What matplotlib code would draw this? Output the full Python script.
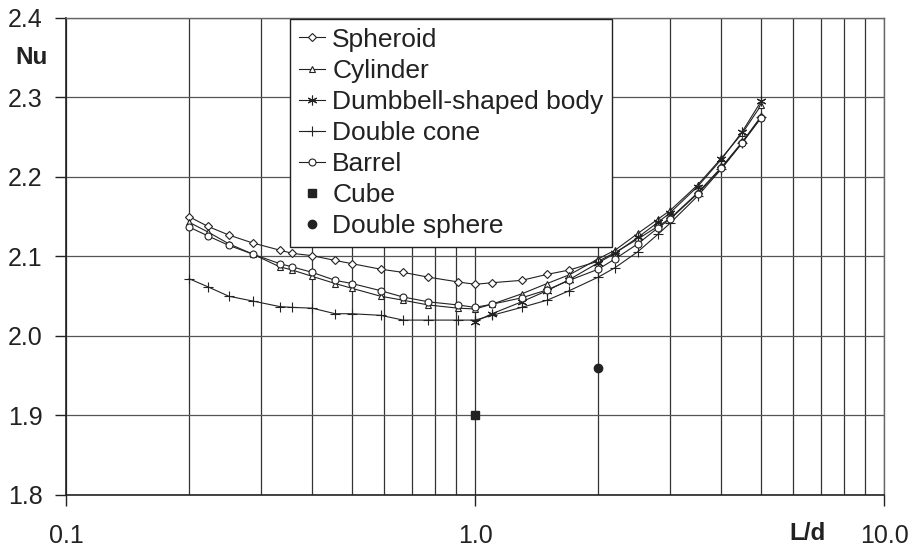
import matplotlib
matplotlib.use("Agg")
import matplotlib.pyplot as plt
from matplotlib.ticker import FixedLocator, NullFormatter

plt.rcParams["font.family"] = ["Liberation Sans", "DejaVu Sans"]

# L/d values (same for all shapes)
ld = [0.2, 0.222, 0.25, 0.286, 0.333, 0.357, 0.4, 0.455, 0.5, 0.588, 0.667, 0.769, 0.909,
      1.0, 1.1, 1.3, 1.5, 1.7, 2.0, 2.2, 2.5, 2.8, 3.0, 3.5, 4.0, 4.5, 5.0]
ld_dumbbell = [1.0, 1.1, 1.3, 1.5, 1.7, 2.0, 2.2, 2.5, 2.8, 3.0, 3.5, 4.0, 4.5, 5.0]

nu_spheroid = [2.150, 2.138, 2.127, 2.117, 2.108, 2.104, 2.101, 2.095, 2.091, 2.084, 2.080, 2.074, 2.068,
               2.065, 2.067, 2.070, 2.0775, 2.083, 2.094, 2.105, 2.122, 2.138, 2.148, 2.180, 2.212, 2.244, 2.276]
nu_cylinder = [2.143, 2.131, 2.116, 2.103, 2.087, 2.083, 2.075, 2.066, 2.060, 2.050, 2.045, 2.039, 2.035,
               2.034, 2.040, 2.053, 2.066, 2.077, 2.097, 2.108, 2.129, 2.147, 2.158, 2.190, 2.2235, 2.255, 2.290]
nu_dumbbell = [2.018, 2.028, 2.043, 2.057, 2.071, 2.092, 2.104, 2.124, 2.143, 2.155, 2.188, 2.222, 2.257, 2.295]
nu_double_cone = [2.072, 2.062, 2.050, 2.044, 2.037, 2.036, 2.035, 2.028, 2.028, 2.026, 2.020, 2.020, 2.020,
                  2.020, 2.026, 2.036, 2.045, 2.057, 2.074, 2.086, 2.106, 2.128, 2.142, 2.176, 2.210, 2.243, 2.275]
nu_barrel = [2.137, 2.126, 2.114, 2.103, 2.091, 2.087, 2.080, 2.070, 2.066, 2.057, 2.049, 2.043, 2.039,
             2.036, 2.040, 2.048, 2.058, 2.070, 2.084, 2.097, 2.116, 2.136, 2.147, 2.179, 2.211, 2.243, 2.274]

cube_ld, cube_nu = [1.0], [1.90]
sphere_ld, sphere_nu = [2.0], [1.96]

c = "#222222"
fig = plt.figure(figsize=(9.12, 5.5), dpi=100)
ax = fig.add_axes([0.0724, 0.1, 0.897, 0.8673])

line_kw = dict(color=c, lw=0.8, mfc="white", mec=c, mew=0.8)
ax.plot(ld, nu_spheroid, marker="D", ms=4, label="Spheroid", **line_kw)
ax.plot(ld, nu_cylinder, marker="^", ms=5, label="Cylinder", **line_kw)
ax.plot(ld_dumbbell, nu_dumbbell, marker=(6, 2, 0), ms=7, label="Dumbbell-shaped body", **line_kw)
ax.plot(ld, nu_double_cone, marker="+", ms=7, label="Double cone", **line_kw)
ax.plot(ld, nu_barrel, marker="o", ms=5, label="Barrel", **line_kw)
ax.plot(cube_ld, cube_nu, ls="none", marker="s", ms=6, color=c, label="Cube")
ax.plot(sphere_ld, sphere_nu, ls="none", marker="o", ms=6, color=c, label="Double sphere")

ax.set_xscale("log")
ax.set_xlim(0.1, 10)
ax.set_ylim(1.8, 2.4)

ax.xaxis.set_major_locator(FixedLocator([0.1, 1.0, 10.0]))
ax.set_xticklabels(["0.1", "1.0", "10.0"])
ax.xaxis.set_minor_locator(FixedLocator([0.2, 0.3, 0.4, 0.5, 0.6, 0.7, 0.8, 0.9,
                                         2, 3, 4, 5, 6, 7, 8, 9]))
ax.xaxis.set_minor_formatter(NullFormatter())
ax.set_yticks([1.8, 1.9, 2.0, 2.1, 2.2, 2.3, 2.4])
ax.set_yticklabels(["1.8", "1.9", "2.0", "2.1", "2.2", "2.3", "2.4"])

ax.tick_params(axis="both", which="major", direction="out", length=8, width=1,
               color=c, labelsize=18, labelcolor=c)
ax.tick_params(axis="x", which="minor", length=0)
ax.tick_params(axis="x", pad=13)
ax.tick_params(axis="y", pad=9)

ax.grid(True, which="both", axis="x", color="#333333", lw=0.9)
ax.grid(True, which="major", axis="y", color="#555555", lw=0.9)
ax.set_axisbelow(True)

for side in ["left", "bottom"]:
    ax.spines[side].set_color(c)
    ax.spines[side].set_linewidth(1.2)
for side in ["top", "right"]:
    ax.spines[side].set_color("#666666")
    ax.spines[side].set_linewidth(1.0)

leg = ax.legend(loc="upper left", bbox_to_anchor=(0.2738, 0.998), fontsize=19,
                handlelength=1.0, handletextpad=0.27, labelspacing=0.27,
                borderpad=0.33, frameon=True, fancybox=False, framealpha=1,
                edgecolor=c, borderaxespad=0)
leg.get_frame().set_linewidth(1.0)
for t in leg.get_texts():
    t.set_color(c)

fig.text(32 / 912, 1 - 58 / 550, "Nu", fontsize=17.5, fontweight="bold",
         ha="center", va="center", color=c)
fig.text(808 / 912, 1 - 534 / 550, "L/d", fontsize=17.5, fontweight="bold",
         ha="center", va="center", color=c)

fig.savefig("out.png", dpi=100)
